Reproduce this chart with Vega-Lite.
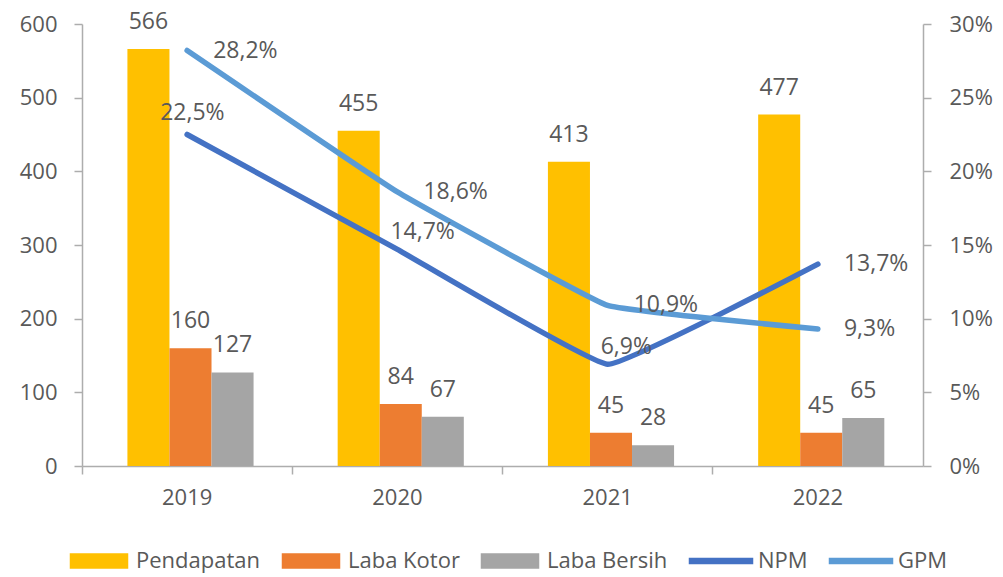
{
  "$schema": "https://vega.github.io/schema/vega-lite/v6.json",
  "width": 841,
  "height": 442,
  "autosize": {"type": "none"},
  "padding": {"left": 82, "top": 24, "right": 80, "bottom": 111},
  "background": "white",
  "config": {
    "view": {"stroke": null},
    "font": "Open Sans",
    "locale": {"number": {"decimal": ",", "thousands": ".", "grouping": [3], "currency": ["", ""]}},
    "axis": {
      "labelFont": "Open Sans",
      "labelFontSize": 22,
      "labelColor": "#595959",
      "domainColor": "#ADADAD",
      "tickColor": "#ADADAD",
      "domainWidth": 1.5,
      "tickWidth": 1.5,
      "tickSize": 8,
      "grid": false,
      "title": null
    }
  },
  "datasets": {
    "bars": [
      {"year": "2019", "series": "Pendapatan", "value": 566},
      {"year": "2019", "series": "Laba Kotor", "value": 160},
      {"year": "2019", "series": "Laba Bersih", "value": 127},
      {"year": "2020", "series": "Pendapatan", "value": 455},
      {"year": "2020", "series": "Laba Kotor", "value": 84},
      {"year": "2020", "series": "Laba Bersih", "value": 67},
      {"year": "2021", "series": "Pendapatan", "value": 413},
      {"year": "2021", "series": "Laba Kotor", "value": 45},
      {"year": "2021", "series": "Laba Bersih", "value": 28},
      {"year": "2022", "series": "Pendapatan", "value": 477},
      {"year": "2022", "series": "Laba Kotor", "value": 45},
      {"year": "2022", "series": "Laba Bersih", "value": 65}
    ],
    "lines": [
      {"year": "2019", "series": "NPM", "pct": 0.225},
      {"year": "2020", "series": "NPM", "pct": 0.147},
      {"year": "2021", "series": "NPM", "pct": 0.069},
      {"year": "2022", "series": "NPM", "pct": 0.137},
      {"year": "2019", "series": "GPM", "pct": 0.282},
      {"year": "2020", "series": "GPM", "pct": 0.186},
      {"year": "2021", "series": "GPM", "pct": 0.109},
      {"year": "2022", "series": "GPM", "pct": 0.093}
    ]
  },
  "layer": [
    {
      "data": {"name": "bars"},
      "encoding": {
        "x": {
          "field": "year",
          "type": "nominal",
          "scale": {"paddingInner": 0, "paddingOuter": 0},
          "axis": {"labelAngle": 0, "bandPosition": 0, "labelPadding": 13}
        },
        "xOffset": {
          "field": "series",
          "type": "nominal",
          "sort": ["Pendapatan", "Laba Kotor", "Laba Bersih"],
          "scale": {"paddingInner": 0, "paddingOuter": 1.1, "align": 0.54}
        },
        "y": {
          "field": "value",
          "type": "quantitative",
          "scale": {"domain": [0, 600]},
          "axis": {"values": [0, 100, 200, 300, 400, 500, 600], "labelPadding": 17}
        }
      },
      "layer": [
        {
          "mark": {"type": "bar"},
          "encoding": {
            "color": {
              "field": "series",
              "type": "nominal",
              "scale": {
                "domain": ["Pendapatan", "Laba Kotor", "Laba Bersih", "NPM", "GPM"],
                "range": ["#FFC000", "#ED7D31", "#A5A5A5", "#4472C4", "#5B9BD5"]
              },
              "legend": {
                "title": null,
                "orient": "none",
                "direction": "horizontal",
                "legendX": -14,
                "legendY": 506,
                "padding": 0,
                "symbolSize": 3600,
                "labelFontSize": 22,
                "labelFont": "Open Sans",
                "labelColor": "#595959",
                "labelOffset": 6,
                "columnPadding": 18,
                "encode": {
                  "symbols": {
                    "update": {
                      "fill": {"scale": "color", "field": "value"},
                      "stroke": {"value": "transparent"},
                      "opacity": {"value": 1},
                      "fillOpacity": {"value": 1},
                      "shape": {"signal": "indexof(['NPM','GPM'], datum.value) >= 0 ? 'M-1.05,-0.085H1.05V0.085H-1.05Z' : 'M-0.95,-0.23H0.95V0.23H-0.95Z'"}
                    }
                  }
                }
              }
            }
          }
        },
        {
          "mark": {"type": "text", "baseline": "alphabetic", "dy": -20, "fontSize": 23, "color": "#595959"},
          "encoding": {"text": {"field": "value", "type": "quantitative"}}
        }
      ]
    },
    {
      "data": {"name": "lines"},
      "encoding": {
        "x": {"field": "year", "type": "nominal"},
        "y": {
          "field": "pct",
          "type": "quantitative",
          "scale": {"domain": [0, 0.3]},
          "axis": {"orient": "right", "format": ".0%", "values": [0, 0.05, 0.1, 0.15, 0.2, 0.25, 0.3], "labelPadding": 18}
        }
      },
      "layer": [
        {
          "mark": {"type": "line", "strokeWidth": 5.5, "interpolate": "cardinal", "tension": 0.75, "strokeCap": "round"},
          "encoding": {
            "color": {
              "field": "series",
              "type": "nominal",
              "scale": {
                "domain": ["Pendapatan", "Laba Kotor", "Laba Bersih", "NPM", "GPM"],
                "range": ["#FFC000", "#ED7D31", "#A5A5A5", "#4472C4", "#5B9BD5"]
              }
            }
          }
        },
        {
          "transform": [{"filter": "datum.series == 'GPM' || datum.year == '2022'"}],
          "mark": {"type": "text", "align": "left", "baseline": "middle", "dx": 26, "fontSize": 23, "color": "#595959"},
          "encoding": {"text": {"field": "pct", "type": "quantitative", "format": ".1%"}}
        },
        {
          "transform": [{"filter": "datum.series == 'NPM' && datum.year == '2019'"}],
          "mark": {"type": "text", "align": "left", "baseline": "middle", "dx": -27, "dy": -22, "fontSize": 23, "color": "#595959"},
          "encoding": {"text": {"field": "pct", "type": "quantitative", "format": ".1%"}}
        },
        {
          "transform": [{"filter": "datum.series == 'NPM' && (datum.year == '2020' || datum.year == '2021')"}],
          "mark": {"type": "text", "align": "left", "baseline": "middle", "dx": -7, "dy": -17, "fontSize": 23, "color": "#595959"},
          "encoding": {"text": {"field": "pct", "type": "quantitative", "format": ".1%"}}
        }
      ]
    }
  ],
  "resolve": {"scale": {"y": "independent"}}
}
